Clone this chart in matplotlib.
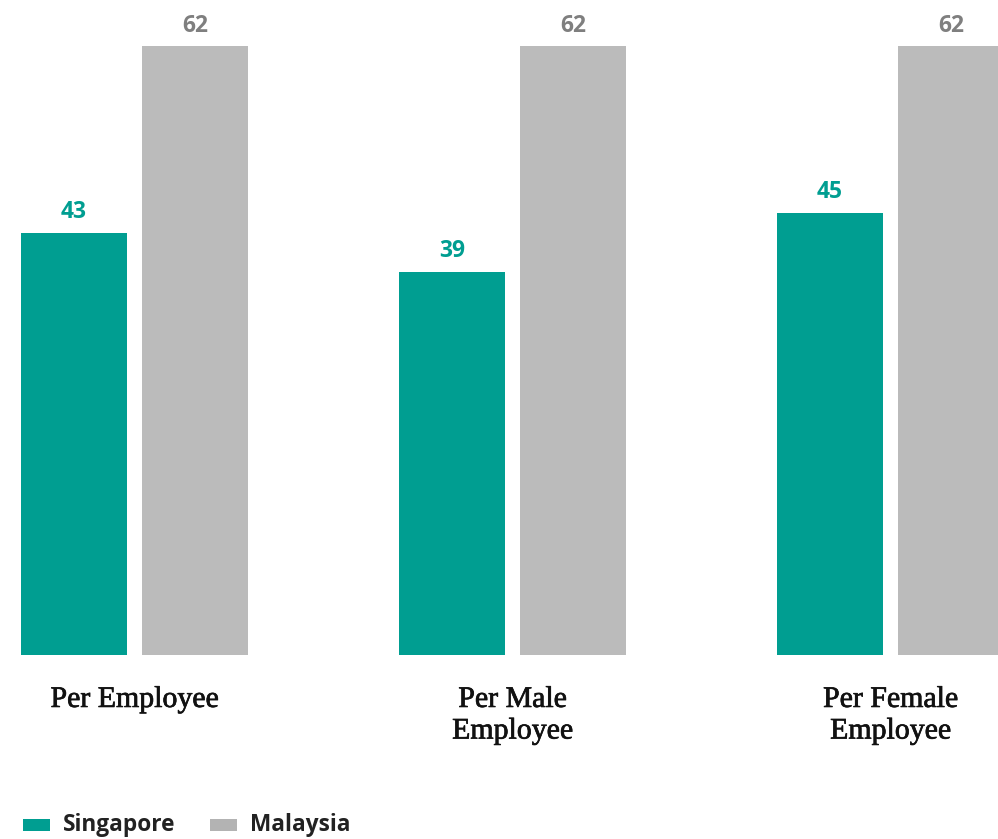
import matplotlib
matplotlib.use("Agg")
import matplotlib.pyplot as plt
import matplotlib.patheffects as pe
from matplotlib.patches import Rectangle
import numpy as np

categories = ["Per Employee", "Per Male\nEmployee", "Per Female\nEmployee"]
series_names = ["Singapore", "Malaysia"]
singapore = [43, 39, 45]
malaysia = [62, 62, 62]

TEAL = "#009E91"
GRAY = "#BBBBBB"
GRAY_TEXT = "#7F7F7F"
LEGEND_GRAY = "#B3B3B3"

W, H = 998, 839
fig = plt.figure(figsize=(W / 100, H / 100), dpi=100)
fig.patch.set_facecolor("white")

# plot area: full width, from top of figure down to the bar baseline
base_px = 655
ax = fig.add_axes([0, (H - base_px) / H, 1, base_px / H])
ax.set_facecolor("white")

x = np.arange(len(categories))
group_px = 378.0
bar_w = 106 / group_px
off = 60.5 / group_px

b1 = ax.bar(x - off, singapore, width=bar_w, color=TEAL, linewidth=0)
b2 = ax.bar(x + off, malaysia, width=bar_w, color=GRAY, linewidth=0)

ax.set_xlim(-134.5 / group_px, (W - 134.5) / group_px)
ax.set_ylim(0, base_px / 9.82)

val_font = dict(family=["Open Sans", "DejaVu Sans"], fontweight="bold", fontsize=16.5)
for rect, v in zip(b1, singapore):
    ax.annotate(f"{v}", (rect.get_x() + rect.get_width() / 2, v),
                xytext=(0, 15), textcoords="offset pixels",
                ha="center", va="baseline", color=TEAL, **val_font)
for rect, v in zip(b2, malaysia):
    ax.annotate(f"{v}", (rect.get_x() + rect.get_width() / 2, v),
                xytext=(0, 14.5), textcoords="offset pixels",
                ha="center", va="baseline", color=GRAY_TEXT, **val_font)

ax.set_xticks(x)
labels = ax.set_xticklabels(categories, family=["Liberation Serif", "DejaVu Serif"],
                            fontsize=21.5, color="#111111", linespacing=1.28)
for t in labels:
    t.set_path_effects([pe.withStroke(linewidth=0.5, foreground="#111111")])
ax.tick_params(axis="x", length=0, pad=23)
ax.set_yticks([])
for s in ax.spines.values():
    s.set_visible(False)

# legend drawn as swatches with labels along the bottom
leg_font = dict(family=["Open Sans", "DejaVu Sans"], fontweight="bold",
                fontsize=16.3, color="#222222")
for (x0, name, col, tx) in [(23, series_names[0], TEAL, 63),
                            (210, series_names[1], LEGEND_GRAY, 250)]:
    fig.patches.append(Rectangle((x0 / W, (H - 831) / H), 27 / W, 12 / H,
                                 transform=fig.transFigure, color=col, lw=0))
    fig.text(tx / W, (H - 831) / H, name, ha="left", va="baseline", **leg_font)

fig.savefig("out.png", dpi=100, facecolor="white")
